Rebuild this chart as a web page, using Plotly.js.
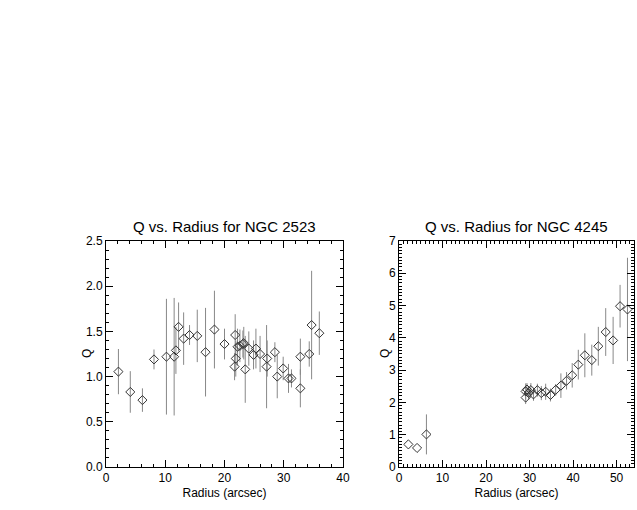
<!DOCTYPE html>
<html>
<head>
<meta charset="utf-8">
<script src="https://cdn.plot.ly/plotly-3.0.1.min.js"></script>
<style>
  body { margin: 0; background: #fff; }
  #chart { width: 637px; height: 510px; }
</style>
</head>
<body>
<div id="chart"></div>
<script>
// NGC 2523
let r2523 = [2.1, 4.1, 6.15, 8.1, 10.2, 11.5, 11.8, 12.25, 13.1, 14.1, 15.4, 16.8, 18.3, 20.0,
  21.8, 21.7, 21.9, 22.2, 22.6, 23.1, 23.25, 23.5, 24.1, 24.9, 25.3, 26.0, 27.2, 27.1,
  28.5, 28.9, 29.9, 30.8, 31.3, 32.8, 32.8, 34.3, 34.7, 36.0];
let q2523 = [1.055, 0.83, 0.74, 1.19, 1.22, 1.22, 1.29, 1.55, 1.42, 1.46, 1.45, 1.27, 1.52, 1.36,
  1.46, 1.11, 1.20, 1.33, 1.34, 1.36, 1.37, 1.08, 1.31, 1.24, 1.31, 1.25, 1.20, 1.11,
  1.27, 1.00, 1.09, 0.98, 0.98, 1.22, 0.87, 1.25, 1.57, 1.48];
let e2523 = [0.25, 0.23, 0.13, 0.11, 0.64, 0.65, 0.26, 0.27, 0.29, 0.11, 0.29, 0.49, 0.43, 0.17,
  0.23, 0.15, 0.2, 0.2, 0.18, 0.15, 0.18, 0.37, 0.19, 0.16, 0.22, 0.2, 0.2, 0.46,
  0.11, 0.24, 0.13, 0.16, 0.1, 0.2, 0.21, 0.14, 0.6, 0.24];

// NGC 4245
let r4245 = [2.15, 4.15, 6.3, 29.1, 29.1, 29.4, 29.8, 30.3, 30.9, 31.8, 32.7, 33.7, 34.8,
  36.0, 37.2, 38.5, 39.8, 41.2, 42.7, 44.3, 45.8, 47.5, 49.2, 50.8, 52.5];
let q4245 = [0.70, 0.59, 1.01, 2.34, 2.15, 2.40, 2.29, 2.38, 2.25, 2.38, 2.29, 2.33, 2.23,
  2.39, 2.52, 2.67, 2.84, 3.17, 3.46, 3.31, 3.74, 4.18, 3.92, 4.98, 4.88];
let e4245 = [0, 0, 0.62, 0.25, 0.2, 0.2, 0.2, 0.22, 0.2, 0.2, 0.22, 0.25, 0.2,
  0.18, 0.38, 0.27, 0.38, 0.46, 0.68, 0.48, 0.6, 0.74, 0.73, 0.66, 1.6];

function makeTrace(x, y, err, xa, ya) {
  return {
    x: x, y: y, xaxis: xa, yaxis: ya,
    type: 'scatter', mode: 'markers',
    marker: { symbol: 'diamond-open', size: 7, color: '#333', line: { width: 1, color: '#333' } },
    error_y: { type: 'data', array: err, visible: true, color: '#888', thickness: 1, width: 0 },
    showlegend: false
  };
}

function axis(range, dtick, minor, domain, anchor, title) {
  return {
    range: range, domain: domain, anchor: anchor,
    dtick: dtick, tick0: 0, ticks: 'inside', ticklen: 7, tickcolor: '#000',
    minor: { dtick: minor, ticks: 'inside', ticklen: 3, tickcolor: '#000' },
    showline: true, linecolor: '#000', linewidth: 1, mirror: 'ticks',
    showgrid: false, zeroline: false,
    tickfont: { size: 12, color: '#000' },
    title: { text: title, font: { size: 12, color: '#000' }, standoff: 4 }
  };
}

// small helper for the rotated "Q" labels and panel titles
function label(text, x, y, size, angle) {
  return { text: text, xref: 'paper', yref: 'paper', x: x, y: y, showarrow: false,
    xanchor: 'center', yanchor: angle ? 'middle' : 'bottom', yshift: angle ? 0 : 4,
    textangle: angle || 0, font: { size: size } };
}

let layout = {
  width: 637, height: 510,
  margin: { l: 0, r: 0, t: 0, b: 0 },
  paper_bgcolor: '#fff', plot_bgcolor: '#fff',
  font: { family: 'Liberation Sans, Arial, sans-serif', color: '#000' },
  xaxis: axis([0, 40], 10, 2, [0.1664, 0.5385], 'y', 'Radius (arcsec)'),
  yaxis: Object.assign(axis([0, 2.5], 0.5, 0.1, [0.0843, 0.5275], 'x', ''), { tickformat: '.1f' }),
  xaxis2: axis([0, 54], 10, 1, [0.6264, 0.9953], 'y2', 'Radius (arcsec)'),
  yaxis2: axis([0, 7], 1, 0.1, [0.0843, 0.5275], 'x2', ''),
  annotations: [
    label('Q vs. Radius for NGC 2523', 0.3525, 0.5275, 15),
    label('Q vs. Radius for NGC 4245', 0.8108, 0.5275, 15),
    label('Q', 0.1366, 0.306, 12, -90),
    label('Q', 0.6044, 0.306, 12, -90)
  ]
};

Plotly.newPlot('chart', [
  makeTrace(r2523, q2523, e2523, 'x', 'y'),
  makeTrace(r4245, q4245, e4245, 'x2', 'y2')
], layout, { staticPlot: true });
</script>
</body>
</html>
